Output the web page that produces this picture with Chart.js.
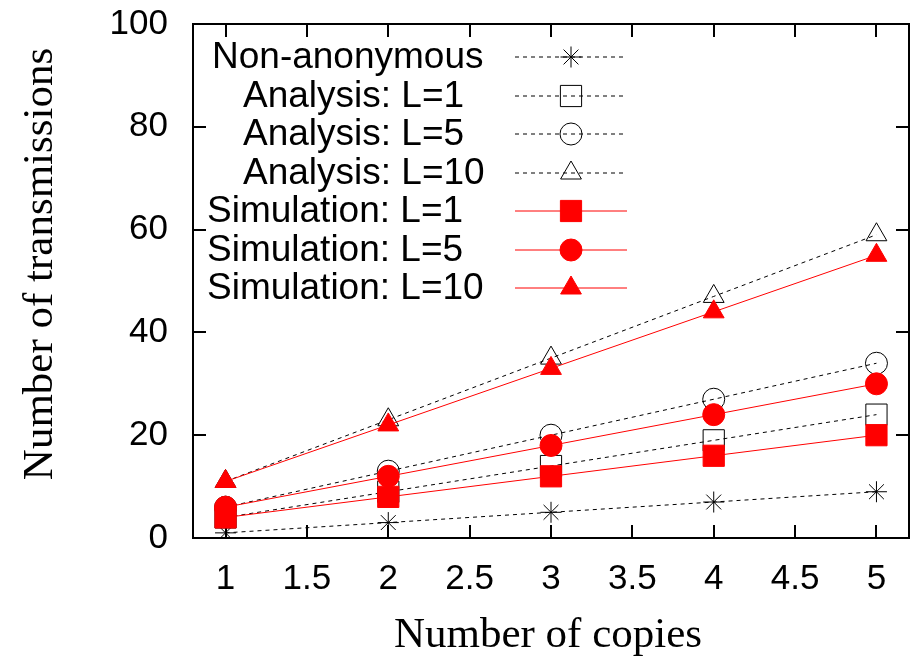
<!DOCTYPE html>
<html>
<head>
<meta charset="utf-8">
<script src="https://cdn.jsdelivr.net/npm/chart.js@4/dist/chart.umd.min.js"></script>
<style>
  html, body { margin: 0; padding: 0; background: #fff; }
  #wrap { width: 915px; height: 660px; }
</style>
</head>
<body>
<div id="wrap"><canvas id="c" width="915" height="660"></canvas></div>
<script>
// data
const copies = [1, 2, 3, 4, 5]
const xTicks = [1, 1.5, 2, 2.5, 3, 3.5, 4, 4.5, 5]
const yTicks = [0, 20, 40, 60, 80, 100]

const nonAnonymous = [1, 3, 5, 7, 9]
const analysisL1 = [4, 9, 14, 19, 24]
const analysisL5 = [6, 13, 20, 27, 34]
const analysisL10 = [11, 23, 35, 47, 59]
const simL1 = [4, 8, 12, 16, 20]
const simL5 = [6, 12, 18, 24, 30]
const simL10 = [11, 22, 33, 44, 55]

const xTitle = 'Number of copies'
const yTitle = 'Number of transmissions'

const sans = "'Liberation Sans', Arial, sans-serif"
const serif = "'Liberation Serif', 'Times New Roman', serif"

const pts = arr => copies.map((x, i) => ({x: x, y: arr[i]}))

const dashed = (label, arr, style, radius) => ({
    label: label,
    data: pts(arr),
    borderColor: '#000',
    borderWidth: 1,
    borderDash: [4, 4],
    pointStyle: style,
    pointRadius: radius,
    pointBorderColor: '#000',
    pointBackgroundColor: 'rgba(0,0,0,0)',
    pointBorderWidth: 1,
    order: 1
})
const solid = (label, arr, style, radius) => ({
    label: label,
    data: pts(arr),
    borderColor: '#ff0000',
    borderWidth: 1,
    pointStyle: style,
    pointRadius: radius,
    pointBorderColor: '#ff0000',
    pointBackgroundColor: '#ff0000',
    pointBorderWidth: 1,
    order: 0
})

const datasets = [
    Object.assign(dashed('Non-anonymous', nonAnonymous, 'star', 10.5), {order: 2}),
    dashed('Analysis: L=1', analysisL1, 'rect', 15),
    dashed('Analysis: L=5', analysisL5, 'circle', 11),
    dashed('Analysis: L=10', analysisL10, 'triangle', 12),
    solid('Simulation: L=1', simL1, 'rect', 15),
    solid('Simulation: L=5', simL5, 'circle', 11),
    solid('Simulation: L=10', simL10, 'triangle', 12)
]

// box with inward ticks, gnuplot style, plus the two axis titles
const frame = {
    id: 'frame',
    beforeDatasetsDraw(chart) {
        const {ctx, chartArea: a, scales} = chart
        ctx.save()
        ctx.strokeStyle = '#000'
        ctx.lineWidth = 2
        ctx.strokeRect(a.left, a.top, a.right - a.left, a.bottom - a.top)
        const len = 13
        ctx.beginPath()
        xTicks.forEach(v => {
            const px = Math.round(scales.x.getPixelForValue(v))
            ctx.moveTo(px, a.bottom); ctx.lineTo(px, a.bottom - len)
            ctx.moveTo(px, a.top); ctx.lineTo(px, a.top + len)
        })
        yTicks.forEach(v => {
            const py = Math.round(scales.y.getPixelForValue(v))
            ctx.moveTo(a.left, py); ctx.lineTo(a.left + len, py)
            ctx.moveTo(a.right, py); ctx.lineTo(a.right - len, py)
        })
        ctx.stroke()

        ctx.fillStyle = '#000'
        ctx.font = '43px ' + serif
        ctx.textAlign = 'center'
        ctx.textBaseline = 'alphabetic'
        ctx.fillText(xTitle, 548, 647)
        ctx.translate(52, 264)
        ctx.rotate(-Math.PI / 2)
        ctx.fillText(yTitle, 0, 0)
        ctx.restore()
    }
}

// legend drawn like gnuplot: text on the left, sample line + marker on the right
const keyBox = {
    id: 'keyBox',
    afterDraw(chart) {
        const {ctx} = chart
        const textLeft = [212, 243, 243, 243, 207, 207, 207]
        const textRight = [490, 466, 470, 490, 466, 470, 490]
        const x0 = 515, x1 = 627, xm = 571
        const top = 57, step = 38.5
        ctx.save()
        chart.data.datasets.forEach((ds, i) => {
            const y = Math.round(top + i * step)
            ctx.font = '37px ' + sans
            ctx.fillStyle = '#000'
            ctx.textAlign = 'left'
            ctx.textBaseline = 'middle'
            ctx.fillText(ds.label, textLeft[i], y + 1, textRight[i] - textLeft[i])

            ctx.beginPath()
            ctx.strokeStyle = ds.borderColor
            ctx.lineWidth = ds.borderWidth
            ctx.setLineDash(ds.borderDash || [])
            ctx.moveTo(x0, y); ctx.lineTo(x1, y)
            ctx.stroke()
            ctx.setLineDash([])

            ctx.fillStyle = ds.pointBackgroundColor
            ctx.strokeStyle = ds.pointBorderColor
            ctx.lineWidth = ds.pointBorderWidth
            Chart.helpers.drawPoint(ctx, {pointStyle: ds.pointStyle, radius: ds.pointRadius, borderWidth: 1, rotation: 0}, xm, y)
        })
        ctx.restore()
    }
}

new Chart(document.getElementById('c'), {
    type: 'line',
    data: {datasets: datasets},
    plugins: [frame, keyBox],
    options: {
        responsive: false,
        animation: false,
        layout: {autoPadding: false, padding: {top: 24, right: 6, left: 0, bottom: 0}},
        plugins: {legend: {display: false}, tooltip: {enabled: false}},
        elements: {line: {tension: 0}},
        scales: {
            x: {
                type: 'linear',
                min: 0.8,
                max: 5.2,
                afterBuildTicks: s => { s.ticks = xTicks.map(v => ({value: v})) },
                afterFit: s => { s.height = 122; s.paddingLeft = 0; s.paddingRight = 0 },
                grid: {display: false, drawTicks: false},
                border: {display: false},
                ticks: {color: '#000', font: {family: sans, size: 35}, padding: 20, maxRotation: 0, autoSkip: false,
                        callback: v => String(v)}
            },
            y: {
                min: 0,
                max: 100,
                afterBuildTicks: s => { s.ticks = yTicks.map(v => ({value: v})) },
                afterFit: s => { s.width = 193; s.paddingTop = 0; s.paddingBottom = 0 },
                grid: {display: false, drawTicks: false},
                border: {display: false},
                ticks: {color: '#000', font: {family: sans, size: 35}, padding: 25}
            }
        }
    }
})
</script>
</body>
</html>
